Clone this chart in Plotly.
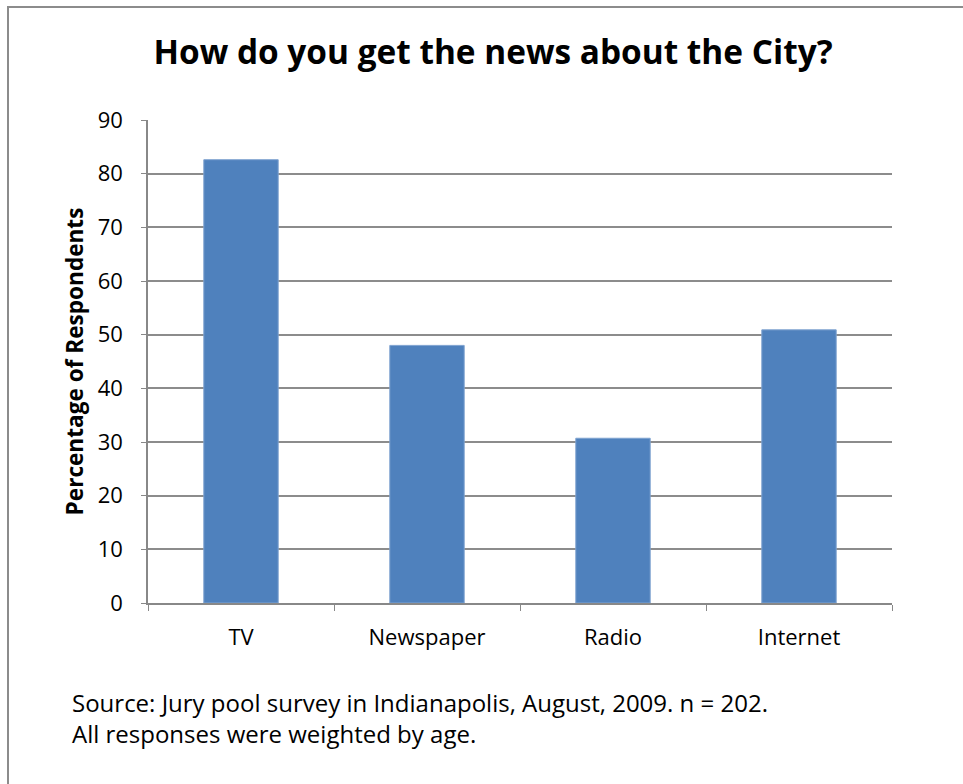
import plotly.graph_objects as go

categories = ["TV", "Newspaper", "Radio", "Internet"]
values = [82.6, 48.0, 30.7, 50.9]
y_ticks = [0, 10, 20, 30, 40, 50, 60, 70, 80, 90]
source_lines = ["Source: Jury pool survey in Indianapolis, August, 2009. n = 202.",
                "All responses were weighted by age."]

W, H = 963, 784
L, R, T, B = 148, 71, 120, 181
FONT = "Open Sans"

fig = go.Figure(go.Bar(
    x=categories, y=values,
    marker=dict(color="#4F81BD", line=dict(color="#7FA3D0", width=1)),
))

fig.update_layout(
    width=W, height=H,
    margin=dict(l=L, r=R, t=T, b=B),
    paper_bgcolor="white", plot_bgcolor="white",
    bargap=0.6,
    showlegend=False,
    font=dict(family=FONT, color="black"),
    title=dict(text="<b>How do you get the news about the City?</b>",
               x=493 / W, xanchor="center", y=1 - 52 / H, yanchor="middle",
               font=dict(size=33.4, family=FONT, color="black")),
)
fig.update_xaxes(
    type="category", tickson="boundaries", ticks="outside", ticklen=6,
    tickcolor="#888888", showline=True, linecolor="#888888", linewidth=1.5,
    showgrid=False, tickfont=dict(size=22, family=FONT), ticklabelstandoff=14,
)
fig.update_yaxes(
    range=[0, 90], tickvals=y_ticks, ticks="outside", ticklen=5,
    tickcolor="#888888", showline=True, linecolor="#888888", linewidth=1.5,
    showgrid=True, gridcolor="#8c8c8c", gridwidth=1.5,
    tickfont=dict(size=22, family=FONT), zeroline=False, ticklabelstandoff=14,
    title=dict(text="<b>Percentage of Respondents</b>", font=dict(size=22.6, family=FONT), standoff=8),
)

fig.add_shape(type="rect", xref="paper", yref="paper",
              x0=(8 - L) / (W - L - R), x1=(W + 10 - L) / (W - L - R),
              y0=-(H + 10 - (H - B)) / (H - T - B) , y1=(H - 7 - B) / (H - T - B),
              line=dict(color="#8c8c8c", width=2), layer="below")

fig.add_annotation(xref="paper", yref="paper",
                   x=(70 - L) / (W - L - R), y=((H - B) - 718) / (H - T - B),
                   xanchor="left", yanchor="middle", showarrow=False, align="left",
                   text="<br>".join(source_lines),
                   font=dict(size=24, family=FONT, color="black"))

fig.write_html("out.html")
